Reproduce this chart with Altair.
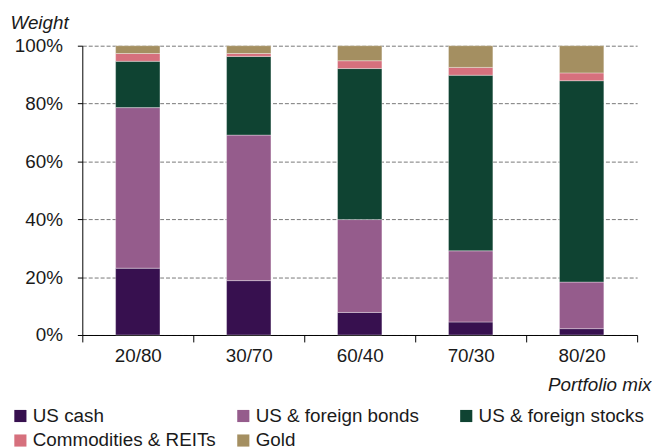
import altair as alt
import pandas as pd

mixes = ["20/80", "30/70", "60/40", "70/30", "80/20"]
series = ["US cash", "US & foreign bonds", "US & foreign stocks", "Commodities & REITs", "Gold"]
colors = ["#37104f", "#955c8c", "#0f4332", "#d6707d", "#a48f61"]
cash = [23.1, 18.8, 7.8, 4.5, 2.2]
bonds = [55.5, 50.3, 32.1, 24.6, 16.1]
stocks = [16.0, 27.2, 52.2, 60.7, 69.6]
commod = [2.7, 1.0, 2.7, 2.7, 2.7]
gold = [2.7, 2.7, 5.2, 7.5, 9.4]
y_ticks = [0, 20, 40, 60, 80, 100]

rows = []
for si, (name, vals) in enumerate(zip(series, [cash, bonds, stocks, commod, gold])):
    for m, v in zip(mixes, vals):
        rows.append({"mix": m, "series": name, "value": v, "idx": si})
df = pd.DataFrame(rows)

FONT = "Liberation Sans"
FS = 19

chart = alt.Chart(df).mark_bar(
    width={"band": 0.4},
    stroke="white", strokeWidth=1, strokeOpacity=0.35
).encode(
    x=alt.X("mix:N", sort=mixes,
            scale=alt.Scale(paddingInner=0, paddingOuter=0),
            axis=alt.Axis(title="Portfolio mix", labelAngle=0, tickBand="extent",
                          tickSize=7, tickColor="black", domainColor="black",
                          labelPadding=5, labelFontSize=FS, labelFont=FONT, labelColor="#1a1a1a",
                          titleFont=FONT, titleFontSize=FS, titleFontStyle="italic",
                          titleFontWeight="normal", titleColor="#1a1a1a",
                          titleAnchor="end", titleAlign="right", titleX=574, titleY=56,
                          titleBaseline="alphabetic", grid=False)),
    y=alt.Y("value:Q", stack="zero",
            scale=alt.Scale(domain=[0, 100], nice=False),
            axis=alt.Axis(title="Weight", values=y_ticks, labelExpr="datum.value + '%'",
                          tickSize=5, tickColor="black", domainColor="black",
                          labelPadding=15, labelFontSize=FS, labelFont=FONT, labelColor="#1a1a1a",
                          grid=True, gridColor="#777777", gridDash=[4, 2], gridWidth=1,
                          titleFont=FONT, titleFontSize=FS, titleFontStyle="italic",
                          titleFontWeight="normal", titleColor="#1a1a1a",
                          titleAngle=0, titleAlign="left", titleBaseline="alphabetic",
                          titleX=-73, titleY=-17.5)),
    color=alt.Color("series:N", sort=series,
                    scale=alt.Scale(domain=series, range=colors),
                    legend=alt.Legend(title=None, orient="none", legendX=-72, legendY=364,
                                      direction="horizontal",
                                      columns=3, gridAlign="all", columnPadding=18,
                                      rowPadding=5, symbolType="square", symbolSize=150,
                                      symbolStrokeWidth=0, labelOffset=3,
                                      labelFont=FONT, labelFontSize=FS, labelColor="#1a1a1a",
                                      padding=0, labelLimit=400)),
    order=alt.Order("idx:Q", sort="ascending"),
).properties(
    width=560, height=292,
    autosize=alt.AutoSizeParams(type="none"),
    padding={"left": 75, "top": 36, "right": 15, "bottom": 112},
).configure_view(stroke=None)

chart.save("out.html", embed_options={"renderer": "svg", "actions": False})
